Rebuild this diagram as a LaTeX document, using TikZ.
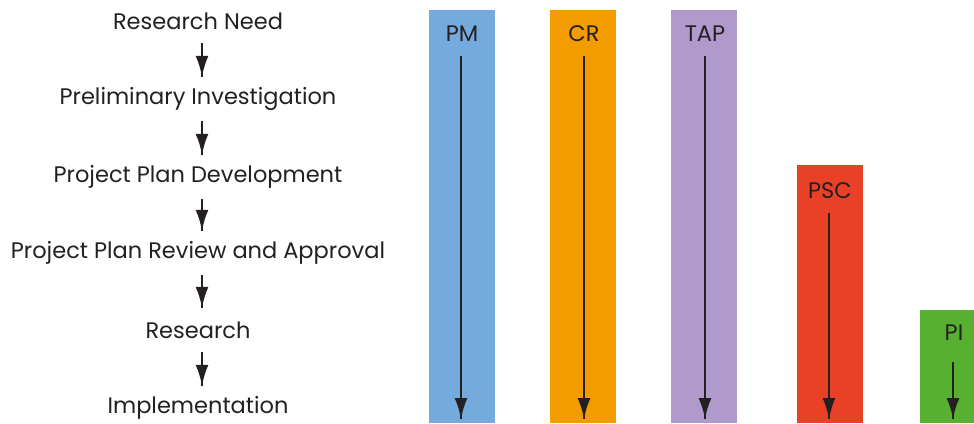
\documentclass[tikz,border=0pt]{standalone}
\usepackage{fontspec}
\setmainfont{Poppins}
\usetikzlibrary{arrows.meta}
\usetikzlibrary{decorations.markings}
\usetikzlibrary{positioning}
\tikzset{down/.style = {line width = 2.4, decoration={markings,
                                  mark=at position 1 with {\arrow{Latex[length=21, width=13]}}},
                        postaction={decorate}}}
\tikzset{step label/.style = {text = textdark, minimum height = 44, inner sep = 0, font = \fontsize{22.5}{26}\selectfont}}
\definecolor{textdark}{rgb}{0.14, 0.12, 0.13}
\definecolor{pmblue}{RGB}{116, 170, 220}
\definecolor{crorange}{RGB}{243, 156, 0}
\definecolor{tappurple}{RGB}{176, 154, 203}
\definecolor{pscred}{RGB}{232, 65, 38}
\definecolor{pigreen}{RGB}{88, 176, 49}

\begin{document}
\begin{tikzpicture}[x = 1pt, y = -1pt]
    \useasboundingbox (0, 0) rectangle (974, 423);

    \node [step label] (need) at (198, 21) {Research Need};
    \node [step label] (prelim) at (198, 99) {Preliminary Investigation};
    \node [step label] (plandev) at (198, 177) {Project Plan Development};
    \node [step label] (review) at (198, 253) {Project Plan Review and Approval};
    \node [step label] (research) at (198, 330) {Research};
    \node [step label] (impl) at (198, 408) {Implementation};

    \draw [down, textdark] ([xshift = 4]need.south) -- ([xshift = 4]prelim.north);
    \draw [down, textdark] ([xshift = 4]prelim.south) -- ([xshift = 4]plandev.north);
    \draw [down, textdark] ([xshift = 4]plandev.south) -- ([xshift = 4]review.north);
    \draw [down, textdark] ([xshift = 4]review.south) -- ([xshift = 4]research.north);
    \draw [down, textdark] ([xshift = 4]research.south) -- ([xshift = 4]impl.north);

    \fill [pmblue] (429, 10) rectangle (495, 423);
    \fill [crorange] (550, 10) rectangle (616, 423);
    \fill [tappurple] (671, 10) rectangle (737, 423);
    \fill [pscred] (797, 165) rectangle (863, 423);
    \fill [pigreen] (920, 310) rectangle (974, 423);

    \node [step label] (pm) at (462, 34) {PM};
    \node [step label] (cr) at (584, 34) {CR};
    \node [step label] (tap) at (705, 34) {TAP};
    \node [step label] (psc) at (830, 191) {PSC};
    \node [step label] (pi) at (954, 333) {PI};

    \coordinate (pmend) at (461, 419);
    \coordinate (crend) at (584, 419);
    \coordinate (tapend) at (705, 419);
    \coordinate (pscend) at (829, 419);
    \coordinate (piend) at (953, 419);

    \draw [down, textdark] (pm.south -| pmend) -- (pmend);
    \draw [down, textdark] (cr.south -| crend) -- (crend);
    \draw [down, textdark] (tap.south -| tapend) -- (tapend);
    \draw [down, textdark] (psc.south -| pscend) -- (pscend);
    \draw [down, textdark] ([yshift = -7]pi.south -| piend) -- (piend);
  \end{tikzpicture}
\end{document}
